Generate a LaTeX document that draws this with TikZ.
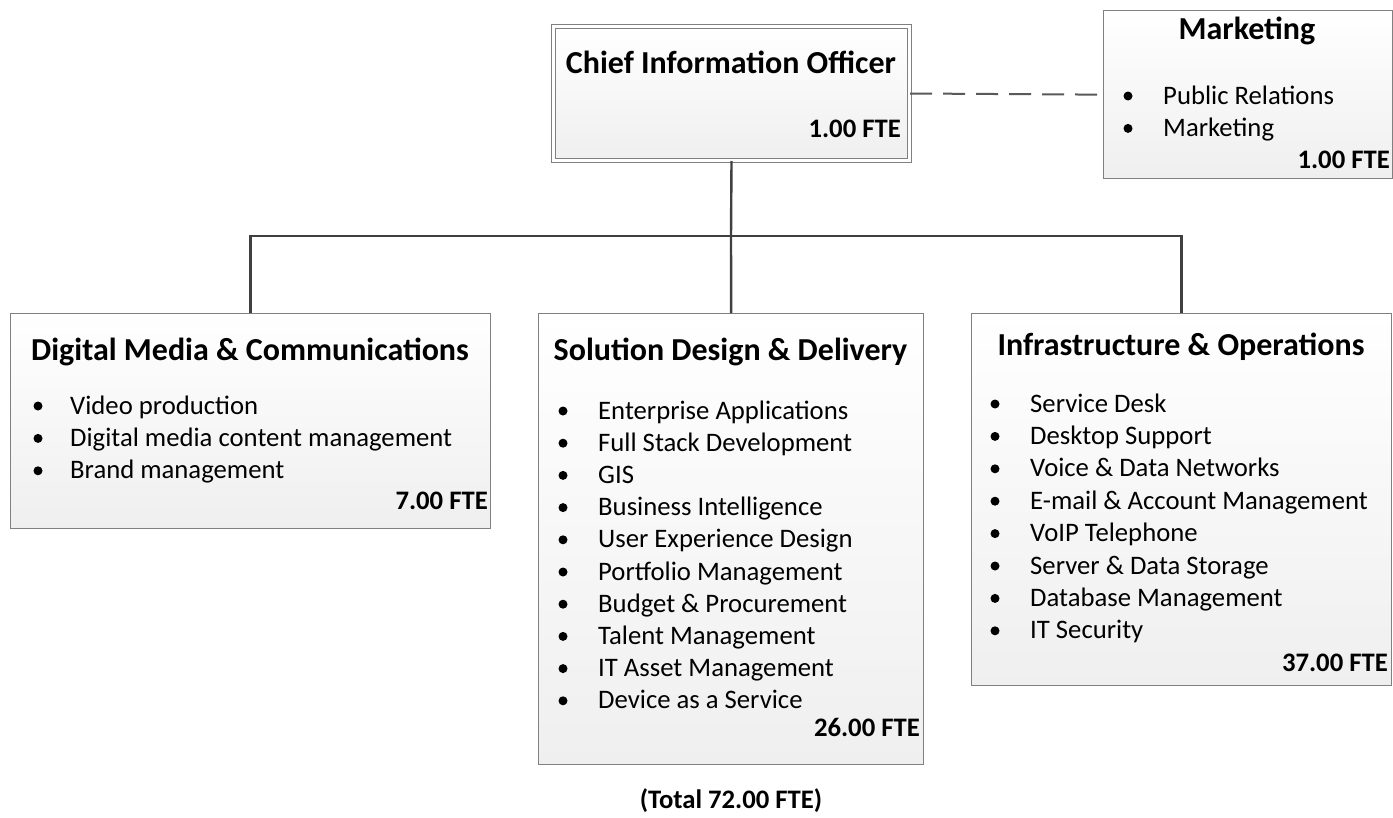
\documentclass[tikz,border=0pt]{standalone}
\usepackage{fontspec}
\setmainfont{Carlito}
\usetikzlibrary{positioning}
\definecolor{boxline}{HTML}{808080}
\definecolor{linkline}{HTML}{404040}
\definecolor{boxfill}{HTML}{EFEFEF}
\tikzset{
  orgbox/.style={draw=boxline, line width=1.3bp, rectangle, inner sep=0pt,
    top color=white, middle color=boxfill, bottom color=boxfill, anchor=north west},
  headtext/.style={font=\fontsize{32bp}{38bp}\selectfont\bfseries, anchor=base, inner sep=0pt},
  itemtext/.style={font=\fontsize{26.7bp}{32bp}\selectfont, anchor=base west, inner sep=0pt},
  ftetext/.style={font=\fontsize{26.7bp}{32bp}\selectfont\bfseries, anchor=base east, inner sep=0pt},
  link/.style={draw=linkline, line width=2.4bp},
  dashline/.style={draw=gray!70!black, line width=2bp, dash pattern=on 22bp off 11bp},
}
\begin{document}
\begin{tikzpicture}[x=1bp, y=-1bp]
    \useasboundingbox (0,0) rectangle (1393,817);
    % top level
    \node[orgbox, anchor=center, line width=1bp, double=white, double distance=3.5bp,
          minimum width=356bp, minimum height=134bp] (cio) at (731.5,93.5) {};
    \node[headtext] (cio-head) at (731,73) {Chief Information Officer};
    \node[ftetext] (cio-fte) at (901,137) {1.00 FTE};
    % marketing (dotted relation)
    \node[orgbox, minimum width=289bp, minimum height=168bp] (mkt) at (1103,10) {};
    \node[headtext] (mkt-head) at (1247,40) {Marketing};
    \foreach \txt [count=\i] in {Public Relations, Marketing}{
        \node[itemtext] (mkt-\i) at (1163, {104+(\i-1)*32.4}) {\txt};
        \fill (1128, {96+(\i-1)*32.4}) circle (4.5bp);
    }
    \node[ftetext] (mkt-fte) at (1390,168) {1.00 FTE};
    % digital media
    \node[orgbox, minimum width=480bp, minimum height=215bp] (dmc) at (10,313) {};
    \node[headtext] (dmc-head) at (250,360) {Digital Media \& Communications};
    \foreach \txt [count=\i] in {Video production, Digital media content management, Brand management}{
        \node[itemtext] (dmc-\i) at (70, {414+(\i-1)*32.4}) {\txt};
        \fill (38, {406+(\i-1)*32.4}) circle (4.5bp);
    }
    \node[ftetext] (dmc-fte) at (488,509) {7.00 FTE};
    % solution design
    \node[orgbox, minimum width=385bp, minimum height=451bp] (sdd) at (538,313) {};
    \node[headtext] (sdd-head) at (730.5,360) {Solution Design \& Delivery};
    \foreach \txt [count=\i] in {Enterprise Applications, Full Stack Development, GIS,
        Business Intelligence, User Experience Design, Portfolio Management,
        Budget \& Procurement, Talent Management, IT Asset Management, Device as a Service}{
        \node[itemtext] (sdd-\i) at (598, {419+(\i-1)*32.2}) {\txt};
        \fill (563, {411+(\i-1)*32.2}) circle (4.5bp);
    }
    \node[ftetext] (sdd-fte) at (920,736) {26.00 FTE};
    % infrastructure
    \node[orgbox, minimum width=420bp, minimum height=372bp] (ino) at (971,313) {};
    \node[headtext] (ino-head) at (1181,355) {Infrastructure \& Operations};
    \foreach \txt [count=\i] in {Service Desk, Desktop Support, Voice \& Data Networks,
        E-mail \& Account Management, VoIP Telephone, Server \& Data Storage,
        Database Management, IT Security}{
        \node[itemtext] (ino-\i) at (1030, {412+(\i-1)*32.4}) {\txt};
        \fill (995, {404+(\i-1)*32.4}) circle (4.5bp);
    }
    \node[ftetext] (ino-fte) at (1388,671) {37.00 FTE};
    % connectors
    \coordinate (bus) at (731,236);
    \draw[link] (cio.south) -- (bus);
    \draw[link] (dmc.north) |- (bus) -| (ino.north);
    \draw[link] (bus) -- (sdd.north);
    \draw[dashline] (cio.east) -- (mkt.west);
    \node[ftetext, anchor=base] (total) at (731,808) {(Total 72.00 FTE)};
\end{tikzpicture}
\end{document}
